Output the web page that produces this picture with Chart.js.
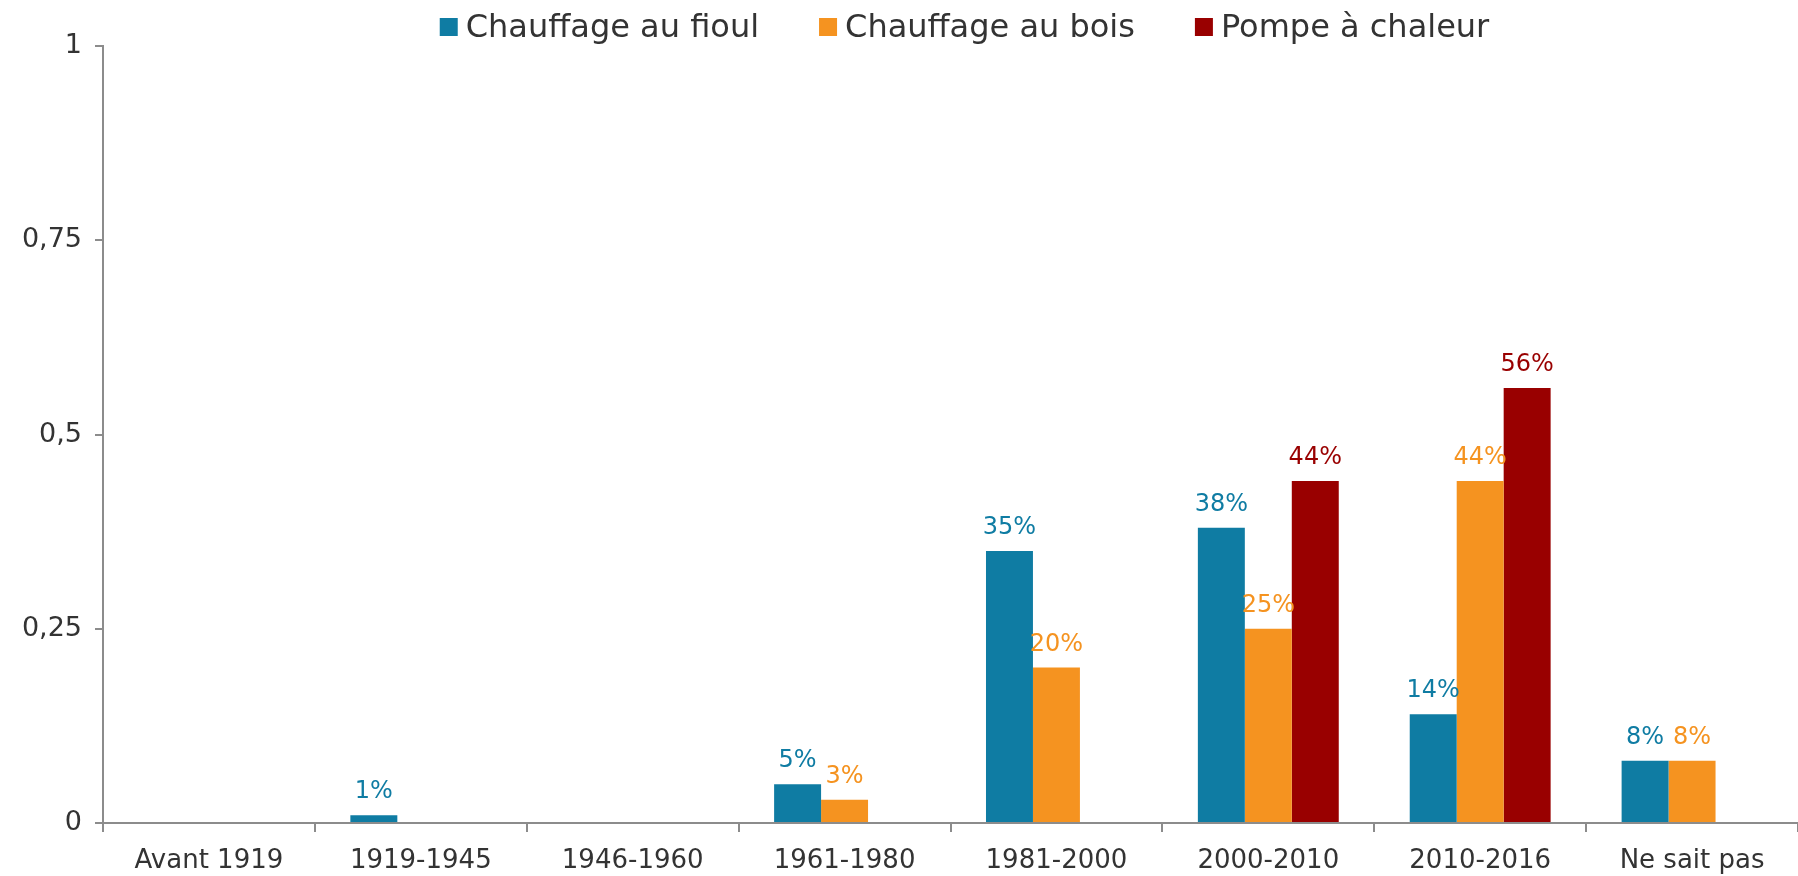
<!DOCTYPE html>
<html>
<head>
<meta charset="utf-8">
<script src="https://cdn.jsdelivr.net/npm/chart.js@4.4.0/dist/chart.umd.min.js"></script>
<style>
  html, body { margin: 0; padding: 0; background: #fff; }
  #wrap { width: 1798px; height: 876px; }
</style>
</head>
<body>
<div id="wrap"><canvas id="heatChart"></canvas></div>
<script>
// Data
const categories = ['Avant 1919', '1919-1945', '1946-1960', '1961-1980', '1981-2000', '2000-2010', '2010-2016', 'Ne sait pas'];
const fioulValues = [null, 0.01, null, 0.05, 0.35, 0.38, 0.14, 0.08];
const boisValues = [null, null, null, 0.03, 0.20, 0.25, 0.44, 0.08];
const pompeValues = [null, null, null, null, null, 0.44, 0.56, null];
const yTicks = [0, 0.25, 0.5, 0.75, 1];

const textColor = '#333333';
const axisColor = '#8c8c8c';
const fontFamily = '"DejaVu Sans", Verdana, sans-serif';

// Draw the value above each bar, in the colour of its series
const valueLabels = {
    id: 'valueLabels',
    afterDatasetsDraw(chart) {
        const ctx = chart.ctx;
        ctx.save();
        ctx.font = '24px ' + fontFamily;
        ctx.textAlign = 'center';
        ctx.textBaseline = 'alphabetic';
        chart.data.datasets.forEach((ds, i) => {
            const meta = chart.getDatasetMeta(i);
            meta.data.forEach((bar, j) => {
                const v = ds.data[j];
                if (v === null || v === undefined) return;
                ctx.fillStyle = ds.backgroundColor;
                ctx.fillText(Math.round(v * 100) + '%', bar.x, bar.y - 17);
            });
        });
        ctx.restore();
    }
};

// Legend on one row, with wide gaps between items and a tight box-to-text gap
const topLegend = {
    id: 'topLegend',
    afterDraw(chart) {
        const ctx = chart.ctx;
        const box = 18, boxGap = 8, itemGap = 60;
        ctx.save();
        ctx.font = '32px ' + fontFamily;
        ctx.textBaseline = 'alphabetic';
        ctx.textAlign = 'left';
        const items = chart.data.datasets.map(ds => ({
            text: ds.label, color: ds.backgroundColor, w: ctx.measureText(ds.label).width
        }));
        const total = items.reduce((s, it) => s + box + boxGap + it.w, 0) + itemGap * (items.length - 1);
        const area = chart.chartArea;
        let x = (area.left + area.right) / 2 - total / 2 + 14;
        items.forEach(it => {
            ctx.fillStyle = it.color;
            ctx.fillRect(x, 18, box, box);
            ctx.fillStyle = textColor;
            ctx.fillText(it.text, x + box + boxGap, 37);
            x += box + boxGap + it.w + itemGap;
        });
        ctx.restore();
    }
};

new Chart(document.getElementById('heatChart').getContext('2d'), {
    type: 'bar',
    data: {
        labels: categories,
        datasets: [
            { label: 'Chauffage au fioul', data: fioulValues, backgroundColor: '#0F7CA3' },
            { label: 'Chauffage au bois', data: boisValues, backgroundColor: '#F59320' },
            { label: 'Pompe à chaleur', data: pompeValues, backgroundColor: '#990000' }
        ]
    },
    options: {
        responsive: true,
        maintainAspectRatio: false,
        animation: false,
        layout: { padding: { top: 46, right: 0, bottom: 0, left: 0 } },
        datasets: {
            bar: { categoryPercentage: 0.665, barPercentage: 1.0, skipNull: false }
        },
        plugins: {
            legend: { display: false },
            tooltip: { enabled: false }
        },
        scales: {
            x: {
                offset: true,
                afterFit(scale) { scale.height = 53; },
                border: { color: axisColor, width: 2 },
                grid: { display: true, drawOnChartArea: false, offset: true, color: axisColor, tickLength: 9, lineWidth: 2 },
                ticks: { color: textColor, font: { family: fontFamily, size: 26 }, padding: 14, maxRotation: 0 }
            },
            y: {
                min: 0,
                max: 1,
                afterFit(scale) { scale.width = 103; },
                afterBuildTicks(scale) { scale.ticks = yTicks.map(v => ({ value: v })); },
                border: { color: axisColor, width: 2 },
                grid: { display: true, drawOnChartArea: false, color: axisColor, tickLength: 8, lineWidth: 2 },
                ticks: {
                    color: textColor,
                    font: { family: fontFamily, size: 27 },
                    padding: 13,
                    callback: v => String(v).replace('.', ',')
                }
            }
        }
    },
    plugins: [valueLabels, topLegend]
});
</script>
</body>
</html>
